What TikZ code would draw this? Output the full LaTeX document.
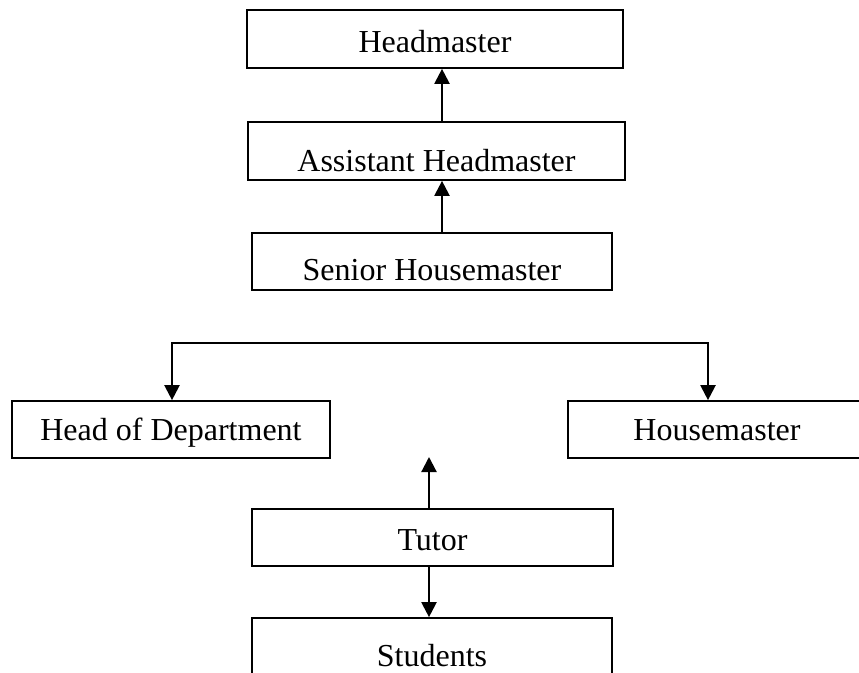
\documentclass[tikz,border=0pt]{standalone}
\usepackage{fontspec}
\setmainfont{Liberation Serif}
\usepackage{tikz}
\usetikzlibrary{arrows.meta,calc}

\begin{document}
\begin{tikzpicture}[x=1pt,y=-1pt,
   orgbox/.style={draw,line width=1.7pt,inner sep=0pt,text depth=0pt,
      font=\fontsize{32}{38}\selectfont},
   uparrow/.style={line width=2.2pt,-{Triangle[length=15pt,width=15pt]}}]
   \useasboundingbox (0,0) rectangle (859,672);
   \coordinate (upx) at (442,0);
   \coordinate (lowx) at (429,0);
   \coordinate (barL) at (172,343);
   \coordinate (barR) at (708,343);
   \coordinate (free) at (429,457);
   % draw boxes
   \node[orgbox,minimum width=376,minimum height=58,text height=26] (head) at (435,39) {Headmaster};
   \node[orgbox,minimum width=377,minimum height=58,text height=40] (assist) at (436.5,151) {Assistant Headmaster};
   \node[orgbox,minimum width=360,minimum height=57,text height=37] (senior) at (432,261.5) {Senior Housemaster};
   \node[orgbox,minimum width=318,minimum height=57,text height=21] (hod) at (171,429.5) {Head of Department};
   \node[orgbox,minimum width=298,minimum height=57,text height=21] (house) at (717,429.5) {Housemaster};
   \node[orgbox,minimum width=361,minimum height=57,text height=25] (tutor) at (432.5,537.5) {Tutor};
   \node[orgbox,minimum width=360,minimum height=57,text height=39] (pupils) at (432,646.5) {Students};
   % draw arrows
   \draw[uparrow] (assist.north -| upx) -- (head.south -| upx);
   \draw[uparrow] (senior.north -| upx) -- (assist.south -| upx);
   \draw[line width=2.2pt,{Triangle[length=15pt,width=15pt]}-{Triangle[length=15pt,width=15pt]}]
      (hod.north -| barL) -- (barL) -- (barR) -- (house.north -| barR);
   \draw[uparrow] (tutor.north -| lowx) -- (free);
   \draw[uparrow] (tutor.south -| lowx) -- (pupils.north -| lowx);
\end{tikzpicture}
\end{document}
